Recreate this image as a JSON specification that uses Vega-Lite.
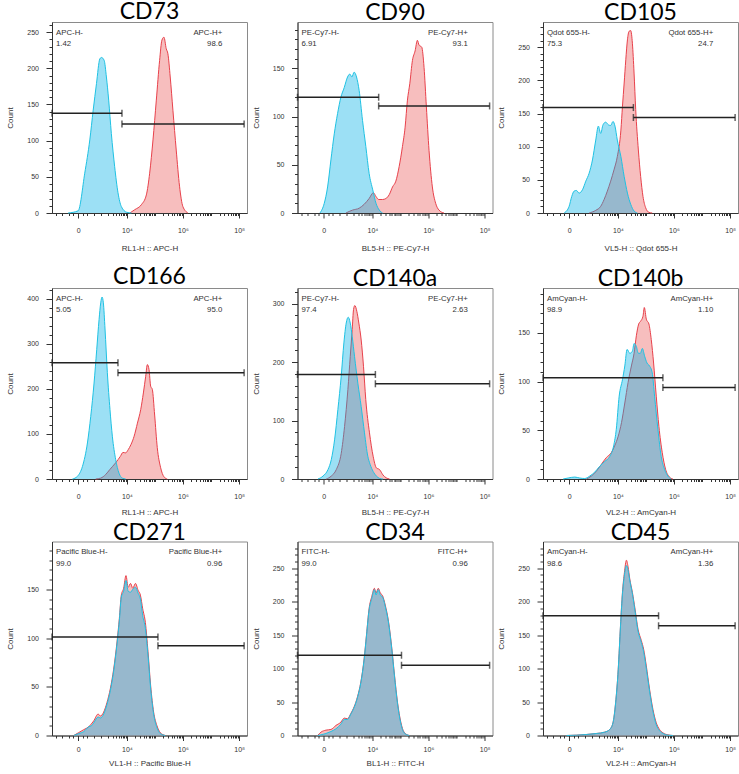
{
"$schema": "https://vega.github.io/schema/vega-lite/v6.json",
"padding": {"left": 6, "top": 0, "right": 0, "bottom": 0},
"datasets": {
"hist": [
{"p":"CD73","s":"c","x":-237,"y":0},{"p":"CD73","s":"c","x":0,"y":3},{"p":"CD73","s":"c","x":135,"y":55},{"p":"CD73","s":"c","x":300,"y":101},{"p":"CD73","s":"c","x":455,"y":142},{"p":"CD73","s":"c","x":655,"y":179},{"p":"CD73","s":"c","x":920,"y":213},{"p":"CD73","s":"c","x":1078,"y":215},{"p":"CD73","s":"c","x":1390,"y":211},{"p":"CD73","s":"c","x":1710,"y":188},{"p":"CD73","s":"c","x":2100,"y":156},{"p":"CD73","s":"c","x":2655,"y":110},{"p":"CD73","s":"c","x":3544,"y":64},{"p":"CD73","s":"c","x":4714,"y":28},{"p":"CD73","s":"c","x":6250,"y":9},{"p":"CD73","s":"c","x":9800,"y":1},{"p":"CD73","s":"c","x":14600,"y":0},
{"p":"CD73","s":"r","x":12800,"y":0},{"p":"CD73","s":"r","x":19200,"y":4.6},{"p":"CD73","s":"r","x":33100,"y":11.5},{"p":"CD73","s":"r","x":49800,"y":25},{"p":"CD73","s":"r","x":65400,"y":55},{"p":"CD73","s":"r","x":85900,"y":101},{"p":"CD73","s":"r","x":113000,"y":156},{"p":"CD73","s":"r","x":148000,"y":211},{"p":"CD73","s":"r","x":179000,"y":239},{"p":"CD73","s":"r","x":211000,"y":243},{"p":"CD73","s":"r","x":255000,"y":227},{"p":"CD73","s":"r","x":292000,"y":220},{"p":"CD73","s":"r","x":353000,"y":188},{"p":"CD73","s":"r","x":440000,"y":142},{"p":"CD73","s":"r","x":577000,"y":87},{"p":"CD73","s":"r","x":757000,"y":37},{"p":"CD73","s":"r","x":995000,"y":9},{"p":"CD73","s":"r","x":1500000,"y":0},
{"p":"CD90","s":"c","x":-65,"y":0},{"p":"CD90","s":"c","x":10,"y":10},{"p":"CD90","s":"c","x":72,"y":27},{"p":"CD90","s":"c","x":153,"y":55},{"p":"CD90","s":"c","x":260,"y":82},{"p":"CD90","s":"c","x":399,"y":103},{"p":"CD90","s":"c","x":583,"y":120},{"p":"CD90","s":"c","x":825,"y":130},{"p":"CD90","s":"c","x":1141,"y":141},{"p":"CD90","s":"c","x":1419,"y":144},{"p":"CD90","s":"c","x":1703,"y":141},{"p":"CD90","s":"c","x":2097,"y":146},{"p":"CD90","s":"c","x":2581,"y":141},{"p":"CD90","s":"c","x":3250,"y":127},{"p":"CD90","s":"c","x":4340,"y":96},{"p":"CD90","s":"c","x":5740,"y":69},{"p":"CD90","s":"c","x":7590,"y":41},{"p":"CD90","s":"c","x":10270,"y":24},{"p":"CD90","s":"c","x":13500,"y":10},{"p":"CD90","s":"c","x":17700,"y":3},{"p":"CD90","s":"c","x":23200,"y":0},
{"p":"CD90","s":"r","x":970,"y":0},{"p":"CD90","s":"r","x":1808,"y":3},{"p":"CD90","s":"r","x":3250,"y":5},{"p":"CD90","s":"r","x":4990,"y":9},{"p":"CD90","s":"r","x":7590,"y":15},{"p":"CD90","s":"r","x":10800,"y":21},{"p":"CD90","s":"r","x":13500,"y":17},{"p":"CD90","s":"r","x":16800,"y":14},{"p":"CD90","s":"r","x":23200,"y":14},{"p":"CD90","s":"r","x":30500,"y":15},{"p":"CD90","s":"r","x":40100,"y":19},{"p":"CD90","s":"r","x":52600,"y":27},{"p":"CD90","s":"r","x":69100,"y":33},{"p":"CD90","s":"r","x":90600,"y":48},{"p":"CD90","s":"r","x":119000,"y":69},{"p":"CD90","s":"r","x":148000,"y":89},{"p":"CD90","s":"r","x":179000,"y":117},{"p":"CD90","s":"r","x":217000,"y":134},{"p":"CD90","s":"r","x":269000,"y":158},{"p":"CD90","s":"r","x":335000,"y":168},{"p":"CD90","s":"r","x":405000,"y":179},{"p":"CD90","s":"r","x":464000,"y":174},{"p":"CD90","s":"r","x":577000,"y":172},{"p":"CD90","s":"r","x":698000,"y":151},{"p":"CD90","s":"r","x":845000,"y":110},{"p":"CD90","s":"r","x":1050000,"y":65},{"p":"CD90","s":"r","x":1380000,"y":27},{"p":"CD90","s":"r","x":1810000,"y":10},{"p":"CD90","s":"r","x":2380000,"y":3},{"p":"CD90","s":"r","x":3570000,"y":0},
{"p":"CD105","s":"c","x":-94,"y":0},{"p":"CD105","s":"c","x":0,"y":10},{"p":"CD105","s":"c","x":45,"y":25},{"p":"CD105","s":"c","x":94,"y":33},{"p":"CD105","s":"c","x":153,"y":34},{"p":"CD105","s":"c","x":237,"y":30},{"p":"CD105","s":"c","x":371,"y":35},{"p":"CD105","s":"c","x":546,"y":48},{"p":"CD105","s":"c","x":777,"y":60},{"p":"CD105","s":"c","x":1078,"y":80},{"p":"CD105","s":"c","x":1470,"y":110},{"p":"CD105","s":"c","x":1864,"y":131},{"p":"CD105","s":"c","x":2295,"y":120},{"p":"CD105","s":"c","x":2818,"y":133},{"p":"CD105","s":"c","x":3544,"y":137},{"p":"CD105","s":"c","x":4450,"y":133},{"p":"CD105","s":"c","x":5430,"y":132},{"p":"CD105","s":"c","x":6600,"y":138},{"p":"CD105","s":"c","x":7820,"y":131},{"p":"CD105","s":"c","x":9500,"y":110},{"p":"CD105","s":"c","x":12800,"y":85},{"p":"CD105","s":"c","x":16800,"y":55},{"p":"CD105","s":"c","x":22000,"y":30},{"p":"CD105","s":"c","x":28900,"y":13},{"p":"CD105","s":"c","x":38000,"y":3},{"p":"CD105","s":"c","x":49800,"y":0},
{"p":"CD105","s":"r","x":777,"y":0},{"p":"CD105","s":"r","x":1470,"y":4},{"p":"CD105","s":"r","x":2295,"y":10},{"p":"CD105","s":"r","x":3070,"y":20},{"p":"CD105","s":"r","x":4090,"y":33},{"p":"CD105","s":"r","x":5430,"y":48},{"p":"CD105","s":"r","x":7180,"y":65},{"p":"CD105","s":"r","x":9500,"y":85},{"p":"CD105","s":"r","x":12800,"y":125},{"p":"CD105","s":"r","x":14600,"y":161},{"p":"CD105","s":"r","x":16800,"y":196},{"p":"CD105","s":"r","x":19200,"y":231},{"p":"CD105","s":"r","x":22000,"y":261},{"p":"CD105","s":"r","x":25200,"y":274},{"p":"CD105","s":"r","x":28900,"y":275},{"p":"CD105","s":"r","x":33100,"y":256},{"p":"CD105","s":"r","x":38000,"y":211},{"p":"CD105","s":"r","x":43500,"y":156},{"p":"CD105","s":"r","x":54100,"y":95},{"p":"CD105","s":"r","x":65400,"y":55},{"p":"CD105","s":"r","x":79100,"y":25},{"p":"CD105","s":"r","x":98400,"y":8},{"p":"CD105","s":"r","x":129000,"y":1},{"p":"CD105","s":"r","x":169000,"y":0},
{"p":"CD166","s":"c","x":-110,"y":0},{"p":"CD166","s":"c","x":-10,"y":6},{"p":"CD166","s":"c","x":80,"y":28},{"p":"CD166","s":"c","x":214,"y":80},{"p":"CD166","s":"c","x":339,"y":139},{"p":"CD166","s":"c","x":503,"y":213},{"p":"CD166","s":"c","x":671,"y":287},{"p":"CD166","s":"c","x":853,"y":354},{"p":"CD166","s":"c","x":1004,"y":391},{"p":"CD166","s":"c","x":1141,"y":404},{"p":"CD166","s":"c","x":1292,"y":391},{"p":"CD166","s":"c","x":1507,"y":333},{"p":"CD166","s":"c","x":1864,"y":236},{"p":"CD166","s":"c","x":2357,"y":154},{"p":"CD166","s":"c","x":2900,"y":95},{"p":"CD166","s":"c","x":3870,"y":43},{"p":"CD166","s":"c","x":5130,"y":13},{"p":"CD166","s":"c","x":6790,"y":2},{"p":"CD166","s":"c","x":8970,"y":0},
{"p":"CD166","s":"r","x":604,"y":0},{"p":"CD166","s":"r","x":1004,"y":2},{"p":"CD166","s":"r","x":1603,"y":10},{"p":"CD166","s":"r","x":2320,"y":21},{"p":"CD166","s":"r","x":3870,"y":36},{"p":"CD166","s":"r","x":5720,"y":50},{"p":"CD166","s":"r","x":7200,"y":59},{"p":"CD166","s":"r","x":8970,"y":58},{"p":"CD166","s":"r","x":11100,"y":65},{"p":"CD166","s":"r","x":13900,"y":76},{"p":"CD166","s":"r","x":18200,"y":95},{"p":"CD166","s":"r","x":23900,"y":124},{"p":"CD166","s":"r","x":31300,"y":154},{"p":"CD166","s":"r","x":39000,"y":191},{"p":"CD166","s":"r","x":47200,"y":228},{"p":"CD166","s":"r","x":54100,"y":254},{"p":"CD166","s":"r","x":62000,"y":243},{"p":"CD166","s":"r","x":71000,"y":206},{"p":"CD166","s":"r","x":81300,"y":199},{"p":"CD166","s":"r","x":98400,"y":142},{"p":"CD166","s":"r","x":122000,"y":70},{"p":"CD166","s":"r","x":161000,"y":25},{"p":"CD166","s":"r","x":211000,"y":5},{"p":"CD166","s":"r","x":277000,"y":0},
{"p":"CD140a","s":"c","x":-110,"y":0},{"p":"CD140a","s":"c","x":-10,"y":5},{"p":"CD140a","s":"c","x":80,"y":16},{"p":"CD140a","s":"c","x":163,"y":33},{"p":"CD140a","s":"c","x":272,"y":67},{"p":"CD140a","s":"c","x":415,"y":119},{"p":"CD140a","s":"c","x":604,"y":176},{"p":"CD140a","s":"c","x":797,"y":233},{"p":"CD140a","s":"c","x":1004,"y":267},{"p":"CD140a","s":"c","x":1216,"y":277},{"p":"CD140a","s":"c","x":1470,"y":267},{"p":"CD140a","s":"c","x":1757,"y":244},{"p":"CD140a","s":"c","x":2164,"y":210},{"p":"CD140a","s":"c","x":2900,"y":164},{"p":"CD140a","s":"c","x":3870,"y":124},{"p":"CD140a","s":"c","x":5130,"y":79},{"p":"CD140a","s":"c","x":6790,"y":39},{"p":"CD140a","s":"c","x":8260,"y":25},{"p":"CD140a","s":"c","x":10600,"y":13},{"p":"CD140a","s":"c","x":13900,"y":5},{"p":"CD140a","s":"c","x":18200,"y":1},{"p":"CD140a","s":"c","x":23900,"y":0},
{"p":"CD140a","s":"r","x":45,"y":0},{"p":"CD140a","s":"r","x":163,"y":5},{"p":"CD140a","s":"r","x":339,"y":16},{"p":"CD140a","s":"r","x":604,"y":44},{"p":"CD140a","s":"r","x":853,"y":90},{"p":"CD140a","s":"r","x":1177,"y":153},{"p":"CD140a","s":"r","x":1470,"y":210},{"p":"CD140a","s":"r","x":1757,"y":256},{"p":"CD140a","s":"r","x":1980,"y":290},{"p":"CD140a","s":"r","x":2226,"y":297},{"p":"CD140a","s":"r","x":2655,"y":287},{"p":"CD140a","s":"r","x":3160,"y":267},{"p":"CD140a","s":"r","x":3870,"y":238},{"p":"CD140a","s":"r","x":4714,"y":193},{"p":"CD140a","s":"r","x":5720,"y":136},{"p":"CD140a","s":"r","x":7820,"y":79},{"p":"CD140a","s":"r","x":10600,"y":39},{"p":"CD140a","s":"r","x":13900,"y":19},{"p":"CD140a","s":"r","x":18200,"y":16},{"p":"CD140a","s":"r","x":23900,"y":7},{"p":"CD140a","s":"r","x":31300,"y":2},{"p":"CD140a","s":"r","x":41200,"y":0},
{"p":"CD140b","s":"c","x":-118,"y":0},{"p":"CD140b","s":"c","x":-16,"y":1},{"p":"CD140b","s":"c","x":110,"y":2},{"p":"CD140b","s":"c","x":260,"y":1},{"p":"CD140b","s":"c","x":485,"y":0.5},{"p":"CD140b","s":"c","x":825,"y":3},{"p":"CD140b","s":"c","x":1333,"y":7},{"p":"CD140b","s":"c","x":2097,"y":13},{"p":"CD140b","s":"c","x":3250,"y":18},{"p":"CD140b","s":"c","x":4990,"y":23},{"p":"CD140b","s":"c","x":6990,"y":34},{"p":"CD140b","s":"c","x":8720,"y":51},{"p":"CD140b","s":"c","x":11100,"y":85},{"p":"CD140b","s":"c","x":14600,"y":102},{"p":"CD140b","s":"c","x":17700,"y":116},{"p":"CD140b","s":"c","x":21400,"y":133},{"p":"CD140b","s":"c","x":26700,"y":129},{"p":"CD140b","s":"c","x":33100,"y":131},{"p":"CD140b","s":"c","x":38000,"y":139},{"p":"CD140b","s":"c","x":45900,"y":136},{"p":"CD140b","s":"c","x":54100,"y":129},{"p":"CD140b","s":"c","x":63700,"y":129},{"p":"CD140b","s":"c","x":75000,"y":134},{"p":"CD140b","s":"c","x":90600,"y":126},{"p":"CD140b","s":"c","x":110000,"y":119},{"p":"CD140b","s":"c","x":136000,"y":116},{"p":"CD140b","s":"c","x":169000,"y":109},{"p":"CD140b","s":"c","x":205000,"y":85},{"p":"CD140b","s":"c","x":269000,"y":51},{"p":"CD140b","s":"c","x":353000,"y":23},{"p":"CD140b","s":"c","x":464000,"y":10},{"p":"CD140b","s":"c","x":609000,"y":3},{"p":"CD140b","s":"c","x":800000,"y":0},
{"p":"CD140b","s":"r","x":583,"y":0},{"p":"CD140b","s":"r","x":970,"y":3},{"p":"CD140b","s":"r","x":1554,"y":8},{"p":"CD140b","s":"r","x":2430,"y":15},{"p":"CD140b","s":"r","x":3760,"y":22},{"p":"CD140b","s":"r","x":5740,"y":27},{"p":"CD140b","s":"r","x":7590,"y":34},{"p":"CD140b","s":"r","x":10270,"y":44},{"p":"CD140b","s":"r","x":13500,"y":58},{"p":"CD140b","s":"r","x":17700,"y":78},{"p":"CD140b","s":"r","x":23200,"y":99},{"p":"CD140b","s":"r","x":30500,"y":116},{"p":"CD140b","s":"r","x":38000,"y":129},{"p":"CD140b","s":"r","x":45900,"y":147},{"p":"CD140b","s":"r","x":55600,"y":159},{"p":"CD140b","s":"r","x":65400,"y":162},{"p":"CD140b","s":"r","x":79100,"y":167},{"p":"CD140b","s":"r","x":88200,"y":176},{"p":"CD140b","s":"r","x":104000,"y":164},{"p":"CD140b","s":"r","x":129000,"y":159},{"p":"CD140b","s":"r","x":156000,"y":143},{"p":"CD140b","s":"r","x":189000,"y":119},{"p":"CD140b","s":"r","x":235000,"y":85},{"p":"CD140b","s":"r","x":292000,"y":54},{"p":"CD140b","s":"r","x":384000,"y":27},{"p":"CD140b","s":"r","x":504000,"y":10},{"p":"CD140b","s":"r","x":698000,"y":2},{"p":"CD140b","s":"r","x":916000,"y":0},
{"p":"CD271","s":"r","x":-80,"y":0},{"p":"CD271","s":"r","x":10,"y":3},{"p":"CD271","s":"r","x":110,"y":6},{"p":"CD271","s":"r","x":260,"y":9},{"p":"CD271","s":"r","x":485,"y":15},{"p":"CD271","s":"r","x":777,"y":22},{"p":"CD271","s":"r","x":970,"y":20},{"p":"CD271","s":"r","x":1333,"y":24},{"p":"CD271","s":"r","x":1808,"y":34},{"p":"CD271","s":"r","x":2430,"y":48},{"p":"CD271","s":"r","x":3250,"y":68},{"p":"CD271","s":"r","x":4340,"y":96},{"p":"CD271","s":"r","x":5290,"y":120},{"p":"CD271","s":"r","x":6250,"y":144},{"p":"CD271","s":"r","x":7590,"y":151},{"p":"CD271","s":"r","x":9240,"y":164},{"p":"CD271","s":"r","x":11100,"y":152},{"p":"CD271","s":"r","x":13500,"y":156},{"p":"CD271","s":"r","x":16300,"y":151},{"p":"CD271","s":"r","x":20300,"y":156},{"p":"CD271","s":"r","x":25200,"y":149},{"p":"CD271","s":"r","x":30500,"y":144},{"p":"CD271","s":"r","x":36900,"y":130},{"p":"CD271","s":"r","x":45900,"y":116},{"p":"CD271","s":"r","x":57100,"y":86},{"p":"CD271","s":"r","x":71000,"y":51},{"p":"CD271","s":"r","x":90600,"y":24},{"p":"CD271","s":"r","x":119000,"y":10},{"p":"CD271","s":"r","x":156000,"y":3},{"p":"CD271","s":"r","x":235000,"y":0},
{"p":"CD271","s":"c","x":-80,"y":0},{"p":"CD271","s":"c","x":10,"y":2},{"p":"CD271","s":"c","x":110,"y":4},{"p":"CD271","s":"c","x":260,"y":9},{"p":"CD271","s":"c","x":370,"y":10},{"p":"CD271","s":"c","x":485,"y":13},{"p":"CD271","s":"c","x":777,"y":19},{"p":"CD271","s":"c","x":970,"y":18},{"p":"CD271","s":"c","x":1333,"y":22},{"p":"CD271","s":"c","x":1808,"y":32},{"p":"CD271","s":"c","x":2430,"y":46},{"p":"CD271","s":"c","x":3250,"y":66},{"p":"CD271","s":"c","x":4340,"y":94},{"p":"CD271","s":"c","x":5290,"y":118},{"p":"CD271","s":"c","x":6250,"y":142},{"p":"CD271","s":"c","x":7590,"y":148},{"p":"CD271","s":"c","x":9240,"y":159},{"p":"CD271","s":"c","x":11100,"y":148},{"p":"CD271","s":"c","x":13500,"y":147},{"p":"CD271","s":"c","x":16300,"y":150},{"p":"CD271","s":"c","x":20300,"y":152},{"p":"CD271","s":"c","x":25200,"y":146},{"p":"CD271","s":"c","x":30500,"y":140},{"p":"CD271","s":"c","x":36900,"y":123},{"p":"CD271","s":"c","x":45900,"y":110},{"p":"CD271","s":"c","x":57100,"y":82},{"p":"CD271","s":"c","x":71000,"y":48},{"p":"CD271","s":"c","x":90600,"y":22},{"p":"CD271","s":"c","x":119000,"y":8},{"p":"CD271","s":"c","x":156000,"y":2},{"p":"CD271","s":"c","x":235000,"y":0},
{"p":"CD34","s":"r","x":-118,"y":0},{"p":"CD34","s":"r","x":-45,"y":5},{"p":"CD34","s":"r","x":39,"y":8},{"p":"CD34","s":"r","x":153,"y":9},{"p":"CD34","s":"r","x":325,"y":15},{"p":"CD34","s":"r","x":583,"y":20},{"p":"CD34","s":"r","x":825,"y":26},{"p":"CD34","s":"r","x":1141,"y":25},{"p":"CD34","s":"r","x":1554,"y":33},{"p":"CD34","s":"r","x":2097,"y":43},{"p":"CD34","s":"r","x":2818,"y":58},{"p":"CD34","s":"r","x":3760,"y":80},{"p":"CD34","s":"r","x":4990,"y":115},{"p":"CD34","s":"r","x":6070,"y":150},{"p":"CD34","s":"r","x":7590,"y":190},{"p":"CD34","s":"r","x":9500,"y":208},{"p":"CD34","s":"r","x":11800,"y":220},{"p":"CD34","s":"r","x":13500,"y":213},{"p":"CD34","s":"r","x":16300,"y":220},{"p":"CD34","s":"r","x":19200,"y":213},{"p":"CD34","s":"r","x":23200,"y":209},{"p":"CD34","s":"r","x":28900,"y":195},{"p":"CD34","s":"r","x":38000,"y":170},{"p":"CD34","s":"r","x":49800,"y":130},{"p":"CD34","s":"r","x":62000,"y":90},{"p":"CD34","s":"r","x":79100,"y":50},{"p":"CD34","s":"r","x":104000,"y":20},{"p":"CD34","s":"r","x":136000,"y":5},{"p":"CD34","s":"r","x":205000,"y":0},
{"p":"CD34","s":"c","x":-118,"y":0},{"p":"CD34","s":"c","x":-45,"y":1},{"p":"CD34","s":"c","x":39,"y":3},{"p":"CD34","s":"c","x":153,"y":6},{"p":"CD34","s":"c","x":325,"y":10},{"p":"CD34","s":"c","x":583,"y":17},{"p":"CD34","s":"c","x":825,"y":24},{"p":"CD34","s":"c","x":1141,"y":24},{"p":"CD34","s":"c","x":1554,"y":32},{"p":"CD34","s":"c","x":2097,"y":42},{"p":"CD34","s":"c","x":2818,"y":57},{"p":"CD34","s":"c","x":3760,"y":79},{"p":"CD34","s":"c","x":4990,"y":114},{"p":"CD34","s":"c","x":6070,"y":149},{"p":"CD34","s":"c","x":7590,"y":188},{"p":"CD34","s":"c","x":9500,"y":205},{"p":"CD34","s":"c","x":11800,"y":218},{"p":"CD34","s":"c","x":13500,"y":210},{"p":"CD34","s":"c","x":16300,"y":218},{"p":"CD34","s":"c","x":19200,"y":210},{"p":"CD34","s":"c","x":23200,"y":207},{"p":"CD34","s":"c","x":28900,"y":193},{"p":"CD34","s":"c","x":38000,"y":168},{"p":"CD34","s":"c","x":49800,"y":128},{"p":"CD34","s":"c","x":62000,"y":88},{"p":"CD34","s":"c","x":79100,"y":48},{"p":"CD34","s":"c","x":104000,"y":18},{"p":"CD34","s":"c","x":136000,"y":4},{"p":"CD34","s":"c","x":205000,"y":0},
{"p":"CD45","s":"r","x":-45,"y":0},{"p":"CD45","s":"r","x":153,"y":0.5},{"p":"CD45","s":"r","x":583,"y":1.5},{"p":"CD45","s":"r","x":1554,"y":3},{"p":"CD45","s":"r","x":3250,"y":5},{"p":"CD45","s":"r","x":4990,"y":9},{"p":"CD45","s":"r","x":6600,"y":19},{"p":"CD45","s":"r","x":8260,"y":49},{"p":"CD45","s":"r","x":10270,"y":99},{"p":"CD45","s":"r","x":12400,"y":164},{"p":"CD45","s":"r","x":14600,"y":214},{"p":"CD45","s":"r","x":17200,"y":244},{"p":"CD45","s":"r","x":20300,"y":262},{"p":"CD45","s":"r","x":23200,"y":252},{"p":"CD45","s":"r","x":26700,"y":234},{"p":"CD45","s":"r","x":33100,"y":214},{"p":"CD45","s":"r","x":41200,"y":189},{"p":"CD45","s":"r","x":52600,"y":159},{"p":"CD45","s":"r","x":69100,"y":142},{"p":"CD45","s":"r","x":83600,"y":129},{"p":"CD45","s":"r","x":104000,"y":104},{"p":"CD45","s":"r","x":136000,"y":69},{"p":"CD45","s":"r","x":179000,"y":39},{"p":"CD45","s":"r","x":235000,"y":19},{"p":"CD45","s":"r","x":308000,"y":9},{"p":"CD45","s":"r","x":405000,"y":4},{"p":"CD45","s":"r","x":609000,"y":1},{"p":"CD45","s":"r","x":916000,"y":0},
{"p":"CD45","s":"c","x":-45,"y":0},{"p":"CD45","s":"c","x":153,"y":0.5},{"p":"CD45","s":"c","x":583,"y":1.5},{"p":"CD45","s":"c","x":1554,"y":3},{"p":"CD45","s":"c","x":3250,"y":5},{"p":"CD45","s":"c","x":4990,"y":9},{"p":"CD45","s":"c","x":6600,"y":19},{"p":"CD45","s":"c","x":8260,"y":49},{"p":"CD45","s":"c","x":10270,"y":99},{"p":"CD45","s":"c","x":12400,"y":164},{"p":"CD45","s":"c","x":14600,"y":212},{"p":"CD45","s":"c","x":17200,"y":240},{"p":"CD45","s":"c","x":20300,"y":254},{"p":"CD45","s":"c","x":23200,"y":247},{"p":"CD45","s":"c","x":26700,"y":232},{"p":"CD45","s":"c","x":33100,"y":212},{"p":"CD45","s":"c","x":41200,"y":186},{"p":"CD45","s":"c","x":52600,"y":156},{"p":"CD45","s":"c","x":69100,"y":139},{"p":"CD45","s":"c","x":83600,"y":125},{"p":"CD45","s":"c","x":104000,"y":100},{"p":"CD45","s":"c","x":136000,"y":66},{"p":"CD45","s":"c","x":179000,"y":36},{"p":"CD45","s":"c","x":235000,"y":16},{"p":"CD45","s":"c","x":308000,"y":7},{"p":"CD45","s":"c","x":405000,"y":3},{"p":"CD45","s":"c","x":609000,"y":0.5},{"p":"CD45","s":"c","x":916000,"y":0}
],
"gates": [
{"p":"CD73","side":"neg","x":-1400,"x2":6600,"y":138,"gate":"APC-H-","pct":"1.42"},
{"p":"CD73","side":"pos","x":6600,"x2":1.5e8,"y":123,"gate":"APC-H+","pct":"98.6"},
{"p":"CD90","side":"neg","x":-1400,"x2":16800,"y":120,"gate":"PE-Cy7-H-","pct":"6.91"},
{"p":"CD90","side":"pos","x":16800,"x2":1.5e8,"y":111,"gate":"PE-Cy7-H+","pct":"93.1"},
{"p":"CD105","side":"neg","x":-1400,"x2":36000,"y":159,"gate":"Qdot 655-H-","pct":"75.3"},
{"p":"CD105","side":"pos","x":36000,"x2":1.5e8,"y":144,"gate":"Qdot 655-H+","pct":"24.7"},
{"p":"CD166","side":"neg","x":-1400,"x2":4700,"y":258,"gate":"APC-H-","pct":"5.05"},
{"p":"CD166","side":"pos","x":4700,"x2":1.5e8,"y":236,"gate":"APC-H+","pct":"95.0"},
{"p":"CD140a","side":"neg","x":-1400,"x2":12800,"y":179,"gate":"PE-Cy7-H-","pct":"97.4"},
{"p":"CD140a","side":"pos","x":12800,"x2":1.5e8,"y":163,"gate":"PE-Cy7-H+","pct":"2.63"},
{"p":"CD140b","side":"neg","x":-1400,"x2":405000,"y":104,"gate":"AmCyan-H-","pct":"98.9"},
{"p":"CD140b","side":"pos","x":405000,"x2":1.5e8,"y":94,"gate":"AmCyan-H+","pct":"1.10"},
{"p":"CD271","side":"neg","x":-1400,"x2":129000,"y":101,"gate":"Pacific Blue-H-","pct":"99.0"},
{"p":"CD271","side":"pos","x":129000,"x2":1.5e8,"y":92,"gate":"Pacific Blue-H+","pct":"0.96"},
{"p":"CD34","side":"neg","x":-1400,"x2":110000,"y":120,"gate":"FITC-H-","pct":"99.0"},
{"p":"CD34","side":"pos","x":110000,"x2":1.5e8,"y":105,"gate":"FITC-H+","pct":"0.96"},
{"p":"CD45","side":"neg","x":-1400,"x2":284000,"y":179,"gate":"AmCyan-H-","pct":"98.6"},
{"p":"CD45","side":"pos","x":284000,"x2":1.5e8,"y":164,"gate":"AmCyan-H+","pct":"1.36"}
]
},
"spacing": 12,
"vconcat": [
{"hconcat": [
{"title": "CD73", "width": 195, "height": 191,
 "encoding": {
  "x": {"field": "x", "type": "quantitative", "scale": {"type": "symlog", "constant": 187, "domain": [-1400, 1.9e8], "nice": false},
   "axis": {"title": "RL1-H :: APC-H", "values": [-1000,-500,-200,-100,0,100,200,500,1000,2000,3000,4000,5000,6000,7000,8000,9000,1e4,2e4,3e4,4e4,5e4,6e4,7e4,8e4,9e4,1e5,2e5,3e5,4e5,5e5,6e5,7e5,8e5,9e5,1e6,2e6,3e6,4e6,5e6,6e6,7e6,8e6,9e6,1e7,2e7,3e7,4e7,5e7,6e7,7e7,8e7,9e7,1e8], "labelExpr": "datum.value===0?'0':datum.value===1e4?'10⁴':datum.value===1e6?'10⁶':datum.value===1e8?'10⁸':''", "tickSize": {"condition": {"test": "datum.value===0||datum.value===1e4||datum.value===1e6||datum.value===1e8", "value": 5}, "value": 2.5}}},
  "y": {"field": "y", "type": "quantitative", "scale": {"domain": [0, 264], "nice": false},
   "axis": {"title": "Count", "values": [0,10,20,30,40,50,60,70,80,90,100,110,120,130,140,150,160,170,180,190,200,210,220,230,240,250,260], "labelExpr": "datum.value%50===0?datum.label:''", "tickSize": {"condition": {"test": "datum.value%50===0", "value": 6}, "value": 3}}}
 },
 "layer": [
  {"data": {"name": "hist"}, "transform": [{"filter": "datum.p==='CD73'&&datum.s==='r'"}], "mark": {"type": "area", "color": "#f4a3a3", "interpolate": "monotone", "line": {"color": "#e8414b", "strokeWidth": 1}}},
  {"data": {"name": "hist"}, "transform": [{"filter": "datum.p==='CD73'&&datum.s==='c'"}], "mark": {"type": "area", "color": "#00afe5", "fillOpacity": 0.39, "interpolate": "monotone", "line": {"color": "#1fc2e3", "strokeWidth": 1}}},
  {"data": {"name": "gates"}, "transform": [{"filter": "datum.p==='CD73'"}], "mark": {"type": "rule", "color": "#222", "strokeWidth": 1.5}, "encoding": {"x2": {"field": "x2"}}},
  {"data": {"name": "gates"}, "transform": [{"filter": "datum.p==='CD73'"}], "mark": {"type": "tick", "orient": "vertical", "size": 7, "thickness": 1.5, "color": "#222"}},
  {"data": {"name": "gates"}, "transform": [{"filter": "datum.p==='CD73'"}], "mark": {"type": "tick", "orient": "vertical", "size": 7, "thickness": 1.5, "color": "#222"}, "encoding": {"x": {"field": "x2", "type": "quantitative"}}},
  {"data": {"name": "gates"}, "transform": [{"filter": "datum.p==='CD73'&&datum.side==='neg'"}], "mark": {"type": "text", "align": "left", "baseline": "middle", "dx": 4, "dy": 10.7}, "encoding": {"x": {"datum": -1400, "type": "quantitative"}, "y": {"datum": 264, "type": "quantitative"}, "text": {"field": "gate"}}},
  {"data": {"name": "gates"}, "transform": [{"filter": "datum.p==='CD73'&&datum.side==='neg'"}], "mark": {"type": "text", "align": "left", "baseline": "middle", "dx": 4, "dy": 22.3}, "encoding": {"x": {"datum": -1400, "type": "quantitative"}, "y": {"datum": 264, "type": "quantitative"}, "text": {"field": "pct"}}},
  {"data": {"name": "gates"}, "transform": [{"filter": "datum.p==='CD73'&&datum.side==='pos'"}], "mark": {"type": "text", "align": "right", "baseline": "middle", "dy": 10.7}, "encoding": {"x": {"datum": 2.5e7, "type": "quantitative"}, "y": {"datum": 264, "type": "quantitative"}, "text": {"field": "gate"}}},
  {"data": {"name": "gates"}, "transform": [{"filter": "datum.p==='CD73'&&datum.side==='pos'"}], "mark": {"type": "text", "align": "right", "baseline": "middle", "dy": 22.3}, "encoding": {"x": {"datum": 2.5e7, "type": "quantitative"}, "y": {"datum": 264, "type": "quantitative"}, "text": {"field": "pct"}}}
 ]},
{"title": "CD90", "width": 195, "height": 191,
 "encoding": {
  "x": {"field": "x", "type": "quantitative", "scale": {"type": "symlog", "constant": 187, "domain": [-1400, 1.9e8], "nice": false},
   "axis": {"title": "BL5-H :: PE-Cy7-H", "values": [-1000,-500,-200,-100,0,100,200,500,1000,2000,3000,4000,5000,6000,7000,8000,9000,1e4,2e4,3e4,4e4,5e4,6e4,7e4,8e4,9e4,1e5,2e5,3e5,4e5,5e5,6e5,7e5,8e5,9e5,1e6,2e6,3e6,4e6,5e6,6e6,7e6,8e6,9e6,1e7,2e7,3e7,4e7,5e7,6e7,7e7,8e7,9e7,1e8], "labelExpr": "datum.value===0?'0':datum.value===1e4?'10⁴':datum.value===1e6?'10⁶':datum.value===1e8?'10⁸':''", "tickSize": {"condition": {"test": "datum.value===0||datum.value===1e4||datum.value===1e6||datum.value===1e8", "value": 5}, "value": 2.5}}},
  "y": {"field": "y", "type": "quantitative", "scale": {"domain": [0, 198], "nice": false},
   "axis": {"title": "Count", "values": [0,10,20,30,40,50,60,70,80,90,100,110,120,130,140,150,160,170,180,190], "labelExpr": "datum.value%50===0?datum.label:''", "tickSize": {"condition": {"test": "datum.value%50===0", "value": 6}, "value": 3}}}
 },
 "layer": [
  {"data": {"name": "hist"}, "transform": [{"filter": "datum.p==='CD90'&&datum.s==='r'"}], "mark": {"type": "area", "color": "#f4a3a3", "interpolate": "monotone", "line": {"color": "#e8414b", "strokeWidth": 1}}},
  {"data": {"name": "hist"}, "transform": [{"filter": "datum.p==='CD90'&&datum.s==='c'"}], "mark": {"type": "area", "color": "#00afe5", "fillOpacity": 0.39, "interpolate": "monotone", "line": {"color": "#1fc2e3", "strokeWidth": 1}}},
  {"data": {"name": "gates"}, "transform": [{"filter": "datum.p==='CD90'"}], "mark": {"type": "rule", "color": "#222", "strokeWidth": 1.5}, "encoding": {"x2": {"field": "x2"}}},
  {"data": {"name": "gates"}, "transform": [{"filter": "datum.p==='CD90'"}], "mark": {"type": "tick", "orient": "vertical", "size": 7, "thickness": 1.5, "color": "#222"}},
  {"data": {"name": "gates"}, "transform": [{"filter": "datum.p==='CD90'"}], "mark": {"type": "tick", "orient": "vertical", "size": 7, "thickness": 1.5, "color": "#222"}, "encoding": {"x": {"field": "x2", "type": "quantitative"}}},
  {"data": {"name": "gates"}, "transform": [{"filter": "datum.p==='CD90'&&datum.side==='neg'"}], "mark": {"type": "text", "align": "left", "baseline": "middle", "dx": 4, "dy": 10.7}, "encoding": {"x": {"datum": -1400, "type": "quantitative"}, "y": {"datum": 198, "type": "quantitative"}, "text": {"field": "gate"}}},
  {"data": {"name": "gates"}, "transform": [{"filter": "datum.p==='CD90'&&datum.side==='neg'"}], "mark": {"type": "text", "align": "left", "baseline": "middle", "dx": 4, "dy": 22.3}, "encoding": {"x": {"datum": -1400, "type": "quantitative"}, "y": {"datum": 198, "type": "quantitative"}, "text": {"field": "pct"}}},
  {"data": {"name": "gates"}, "transform": [{"filter": "datum.p==='CD90'&&datum.side==='pos'"}], "mark": {"type": "text", "align": "right", "baseline": "middle", "dy": 10.7}, "encoding": {"x": {"datum": 2.5e7, "type": "quantitative"}, "y": {"datum": 198, "type": "quantitative"}, "text": {"field": "gate"}}},
  {"data": {"name": "gates"}, "transform": [{"filter": "datum.p==='CD90'&&datum.side==='pos'"}], "mark": {"type": "text", "align": "right", "baseline": "middle", "dy": 22.3}, "encoding": {"x": {"datum": 2.5e7, "type": "quantitative"}, "y": {"datum": 198, "type": "quantitative"}, "text": {"field": "pct"}}}
 ]},
{"title": "CD105", "width": 195, "height": 191,
 "encoding": {
  "x": {"field": "x", "type": "quantitative", "scale": {"type": "symlog", "constant": 187, "domain": [-1400, 1.9e8], "nice": false},
   "axis": {"title": "VL5-H :: Qdot 655-H", "values": [-1000,-500,-200,-100,0,100,200,500,1000,2000,3000,4000,5000,6000,7000,8000,9000,1e4,2e4,3e4,4e4,5e4,6e4,7e4,8e4,9e4,1e5,2e5,3e5,4e5,5e5,6e5,7e5,8e5,9e5,1e6,2e6,3e6,4e6,5e6,6e6,7e6,8e6,9e6,1e7,2e7,3e7,4e7,5e7,6e7,7e7,8e7,9e7,1e8], "labelExpr": "datum.value===0?'0':datum.value===1e4?'10⁴':datum.value===1e6?'10⁶':datum.value===1e8?'10⁸':''", "tickSize": {"condition": {"test": "datum.value===0||datum.value===1e4||datum.value===1e6||datum.value===1e8", "value": 5}, "value": 2.5}}},
  "y": {"field": "y", "type": "quantitative", "scale": {"domain": [0, 288], "nice": false},
   "axis": {"title": "Count", "values": [0,10,20,30,40,50,60,70,80,90,100,110,120,130,140,150,160,170,180,190,200,210,220,230,240,250,260,270,280], "labelExpr": "datum.value%50===0?datum.label:''", "tickSize": {"condition": {"test": "datum.value%50===0", "value": 6}, "value": 3}}}
 },
 "layer": [
  {"data": {"name": "hist"}, "transform": [{"filter": "datum.p==='CD105'&&datum.s==='r'"}], "mark": {"type": "area", "color": "#f4a3a3", "interpolate": "monotone", "line": {"color": "#e8414b", "strokeWidth": 1}}},
  {"data": {"name": "hist"}, "transform": [{"filter": "datum.p==='CD105'&&datum.s==='c'"}], "mark": {"type": "area", "color": "#00afe5", "fillOpacity": 0.39, "interpolate": "monotone", "line": {"color": "#1fc2e3", "strokeWidth": 1}}},
  {"data": {"name": "gates"}, "transform": [{"filter": "datum.p==='CD105'"}], "mark": {"type": "rule", "color": "#222", "strokeWidth": 1.5}, "encoding": {"x2": {"field": "x2"}}},
  {"data": {"name": "gates"}, "transform": [{"filter": "datum.p==='CD105'"}], "mark": {"type": "tick", "orient": "vertical", "size": 7, "thickness": 1.5, "color": "#222"}},
  {"data": {"name": "gates"}, "transform": [{"filter": "datum.p==='CD105'"}], "mark": {"type": "tick", "orient": "vertical", "size": 7, "thickness": 1.5, "color": "#222"}, "encoding": {"x": {"field": "x2", "type": "quantitative"}}},
  {"data": {"name": "gates"}, "transform": [{"filter": "datum.p==='CD105'&&datum.side==='neg'"}], "mark": {"type": "text", "align": "left", "baseline": "middle", "dx": 4, "dy": 10.7}, "encoding": {"x": {"datum": -1400, "type": "quantitative"}, "y": {"datum": 288, "type": "quantitative"}, "text": {"field": "gate"}}},
  {"data": {"name": "gates"}, "transform": [{"filter": "datum.p==='CD105'&&datum.side==='neg'"}], "mark": {"type": "text", "align": "left", "baseline": "middle", "dx": 4, "dy": 22.3}, "encoding": {"x": {"datum": -1400, "type": "quantitative"}, "y": {"datum": 288, "type": "quantitative"}, "text": {"field": "pct"}}},
  {"data": {"name": "gates"}, "transform": [{"filter": "datum.p==='CD105'&&datum.side==='pos'"}], "mark": {"type": "text", "align": "right", "baseline": "middle", "dy": 10.7}, "encoding": {"x": {"datum": 2.5e7, "type": "quantitative"}, "y": {"datum": 288, "type": "quantitative"}, "text": {"field": "gate"}}},
  {"data": {"name": "gates"}, "transform": [{"filter": "datum.p==='CD105'&&datum.side==='pos'"}], "mark": {"type": "text", "align": "right", "baseline": "middle", "dy": 22.3}, "encoding": {"x": {"datum": 2.5e7, "type": "quantitative"}, "y": {"datum": 288, "type": "quantitative"}, "text": {"field": "pct"}}}
 ]}
], "spacing": 3.5},
{"spacing": 3.5, "vconcat": [
{"hconcat": [
{"title": "CD166", "width": 195, "height": 191,
 "encoding": {
  "x": {"field": "x", "type": "quantitative", "scale": {"type": "symlog", "constant": 187, "domain": [-1400, 1.9e8], "nice": false},
   "axis": {"title": "RL1-H :: APC-H", "titlePadding": 9, "values": [-1000,-500,-200,-100,0,100,200,500,1000,2000,3000,4000,5000,6000,7000,8000,9000,1e4,2e4,3e4,4e4,5e4,6e4,7e4,8e4,9e4,1e5,2e5,3e5,4e5,5e5,6e5,7e5,8e5,9e5,1e6,2e6,3e6,4e6,5e6,6e6,7e6,8e6,9e6,1e7,2e7,3e7,4e7,5e7,6e7,7e7,8e7,9e7,1e8], "labelExpr": "datum.value===0?'0':datum.value===1e4?'10⁴':datum.value===1e6?'10⁶':datum.value===1e8?'10⁸':''", "tickSize": {"condition": {"test": "datum.value===0||datum.value===1e4||datum.value===1e6||datum.value===1e8", "value": 5}, "value": 2.5}}},
  "y": {"field": "y", "type": "quantitative", "scale": {"domain": [0, 424], "nice": false},
   "axis": {"title": "Count", "values": [0,20,40,60,80,100,120,140,160,180,200,220,240,260,280,300,320,340,360,380,400,420], "labelExpr": "datum.value%100===0?datum.label:''", "tickSize": {"condition": {"test": "datum.value%100===0", "value": 6}, "value": 3}}}
 },
 "layer": [
  {"data": {"name": "hist"}, "transform": [{"filter": "datum.p==='CD166'&&datum.s==='r'"}], "mark": {"type": "area", "color": "#f4a3a3", "interpolate": "monotone", "line": {"color": "#e8414b", "strokeWidth": 1}}},
  {"data": {"name": "hist"}, "transform": [{"filter": "datum.p==='CD166'&&datum.s==='c'"}], "mark": {"type": "area", "color": "#00afe5", "fillOpacity": 0.39, "interpolate": "monotone", "line": {"color": "#1fc2e3", "strokeWidth": 1}}},
  {"data": {"name": "gates"}, "transform": [{"filter": "datum.p==='CD166'"}], "mark": {"type": "rule", "color": "#222", "strokeWidth": 1.5}, "encoding": {"x2": {"field": "x2"}}},
  {"data": {"name": "gates"}, "transform": [{"filter": "datum.p==='CD166'"}], "mark": {"type": "tick", "orient": "vertical", "size": 7, "thickness": 1.5, "color": "#222"}},
  {"data": {"name": "gates"}, "transform": [{"filter": "datum.p==='CD166'"}], "mark": {"type": "tick", "orient": "vertical", "size": 7, "thickness": 1.5, "color": "#222"}, "encoding": {"x": {"field": "x2", "type": "quantitative"}}},
  {"data": {"name": "gates"}, "transform": [{"filter": "datum.p==='CD166'&&datum.side==='neg'"}], "mark": {"type": "text", "align": "left", "baseline": "middle", "dx": 4, "dy": 10.7}, "encoding": {"x": {"datum": -1400, "type": "quantitative"}, "y": {"datum": 424, "type": "quantitative"}, "text": {"field": "gate"}}},
  {"data": {"name": "gates"}, "transform": [{"filter": "datum.p==='CD166'&&datum.side==='neg'"}], "mark": {"type": "text", "align": "left", "baseline": "middle", "dx": 4, "dy": 22.3}, "encoding": {"x": {"datum": -1400, "type": "quantitative"}, "y": {"datum": 424, "type": "quantitative"}, "text": {"field": "pct"}}},
  {"data": {"name": "gates"}, "transform": [{"filter": "datum.p==='CD166'&&datum.side==='pos'"}], "mark": {"type": "text", "align": "right", "baseline": "middle", "dy": 10.7}, "encoding": {"x": {"datum": 2.5e7, "type": "quantitative"}, "y": {"datum": 424, "type": "quantitative"}, "text": {"field": "gate"}}},
  {"data": {"name": "gates"}, "transform": [{"filter": "datum.p==='CD166'&&datum.side==='pos'"}], "mark": {"type": "text", "align": "right", "baseline": "middle", "dy": 22.3}, "encoding": {"x": {"datum": 2.5e7, "type": "quantitative"}, "y": {"datum": 424, "type": "quantitative"}, "text": {"field": "pct"}}}
 ]},
{"title": "CD140a", "width": 195, "height": 191,
 "encoding": {
  "x": {"field": "x", "type": "quantitative", "scale": {"type": "symlog", "constant": 187, "domain": [-1400, 1.9e8], "nice": false},
   "axis": {"title": "BL5-H :: PE-Cy7-H", "titlePadding": 9, "values": [-1000,-500,-200,-100,0,100,200,500,1000,2000,3000,4000,5000,6000,7000,8000,9000,1e4,2e4,3e4,4e4,5e4,6e4,7e4,8e4,9e4,1e5,2e5,3e5,4e5,5e5,6e5,7e5,8e5,9e5,1e6,2e6,3e6,4e6,5e6,6e6,7e6,8e6,9e6,1e7,2e7,3e7,4e7,5e7,6e7,7e7,8e7,9e7,1e8], "labelExpr": "datum.value===0?'0':datum.value===1e4?'10⁴':datum.value===1e6?'10⁶':datum.value===1e8?'10⁸':''", "tickSize": {"condition": {"test": "datum.value===0||datum.value===1e4||datum.value===1e6||datum.value===1e8", "value": 5}, "value": 2.5}}},
  "y": {"field": "y", "type": "quantitative", "scale": {"domain": [0, 327], "nice": false},
   "axis": {"title": "Count", "values": [0,20,40,60,80,100,120,140,160,180,200,220,240,260,280,300,320], "labelExpr": "datum.value%100===0?datum.label:''", "tickSize": {"condition": {"test": "datum.value%100===0", "value": 6}, "value": 3}}}
 },
 "layer": [
  {"data": {"name": "hist"}, "transform": [{"filter": "datum.p==='CD140a'&&datum.s==='r'"}], "mark": {"type": "area", "color": "#f4a3a3", "interpolate": "monotone", "line": {"color": "#e8414b", "strokeWidth": 1}}},
  {"data": {"name": "hist"}, "transform": [{"filter": "datum.p==='CD140a'&&datum.s==='c'"}], "mark": {"type": "area", "color": "#00afe5", "fillOpacity": 0.39, "interpolate": "monotone", "line": {"color": "#1fc2e3", "strokeWidth": 1}}},
  {"data": {"name": "gates"}, "transform": [{"filter": "datum.p==='CD140a'"}], "mark": {"type": "rule", "color": "#222", "strokeWidth": 1.5}, "encoding": {"x2": {"field": "x2"}}},
  {"data": {"name": "gates"}, "transform": [{"filter": "datum.p==='CD140a'"}], "mark": {"type": "tick", "orient": "vertical", "size": 7, "thickness": 1.5, "color": "#222"}},
  {"data": {"name": "gates"}, "transform": [{"filter": "datum.p==='CD140a'"}], "mark": {"type": "tick", "orient": "vertical", "size": 7, "thickness": 1.5, "color": "#222"}, "encoding": {"x": {"field": "x2", "type": "quantitative"}}},
  {"data": {"name": "gates"}, "transform": [{"filter": "datum.p==='CD140a'&&datum.side==='neg'"}], "mark": {"type": "text", "align": "left", "baseline": "middle", "dx": 4, "dy": 10.7}, "encoding": {"x": {"datum": -1400, "type": "quantitative"}, "y": {"datum": 327, "type": "quantitative"}, "text": {"field": "gate"}}},
  {"data": {"name": "gates"}, "transform": [{"filter": "datum.p==='CD140a'&&datum.side==='neg'"}], "mark": {"type": "text", "align": "left", "baseline": "middle", "dx": 4, "dy": 22.3}, "encoding": {"x": {"datum": -1400, "type": "quantitative"}, "y": {"datum": 327, "type": "quantitative"}, "text": {"field": "pct"}}},
  {"data": {"name": "gates"}, "transform": [{"filter": "datum.p==='CD140a'&&datum.side==='pos'"}], "mark": {"type": "text", "align": "right", "baseline": "middle", "dy": 10.7}, "encoding": {"x": {"datum": 2.5e7, "type": "quantitative"}, "y": {"datum": 327, "type": "quantitative"}, "text": {"field": "gate"}}},
  {"data": {"name": "gates"}, "transform": [{"filter": "datum.p==='CD140a'&&datum.side==='pos'"}], "mark": {"type": "text", "align": "right", "baseline": "middle", "dy": 22.3}, "encoding": {"x": {"datum": 2.5e7, "type": "quantitative"}, "y": {"datum": 327, "type": "quantitative"}, "text": {"field": "pct"}}}
 ]},
{"title": "CD140b", "width": 195, "height": 191,
 "encoding": {
  "x": {"field": "x", "type": "quantitative", "scale": {"type": "symlog", "constant": 187, "domain": [-1400, 1.9e8], "nice": false},
   "axis": {"title": "VL2-H :: AmCyan-H", "titlePadding": 9, "values": [-1000,-500,-200,-100,0,100,200,500,1000,2000,3000,4000,5000,6000,7000,8000,9000,1e4,2e4,3e4,4e4,5e4,6e4,7e4,8e4,9e4,1e5,2e5,3e5,4e5,5e5,6e5,7e5,8e5,9e5,1e6,2e6,3e6,4e6,5e6,6e6,7e6,8e6,9e6,1e7,2e7,3e7,4e7,5e7,6e7,7e7,8e7,9e7,1e8], "labelExpr": "datum.value===0?'0':datum.value===1e4?'10⁴':datum.value===1e6?'10⁶':datum.value===1e8?'10⁸':''", "tickSize": {"condition": {"test": "datum.value===0||datum.value===1e4||datum.value===1e6||datum.value===1e8", "value": 5}, "value": 2.5}}},
  "y": {"field": "y", "type": "quantitative", "scale": {"domain": [0, 196], "nice": false},
   "axis": {"title": "Count", "values": [0,10,20,30,40,50,60,70,80,90,100,110,120,130,140,150,160,170,180,190], "labelExpr": "datum.value%50===0?datum.label:''", "tickSize": {"condition": {"test": "datum.value%50===0", "value": 6}, "value": 3}}}
 },
 "layer": [
  {"data": {"name": "hist"}, "transform": [{"filter": "datum.p==='CD140b'&&datum.s==='r'"}], "mark": {"type": "area", "color": "#f4a3a3", "interpolate": "monotone", "line": {"color": "#e8414b", "strokeWidth": 1}}},
  {"data": {"name": "hist"}, "transform": [{"filter": "datum.p==='CD140b'&&datum.s==='c'"}], "mark": {"type": "area", "color": "#00afe5", "fillOpacity": 0.39, "interpolate": "monotone", "line": {"color": "#1fc2e3", "strokeWidth": 1}}},
  {"data": {"name": "gates"}, "transform": [{"filter": "datum.p==='CD140b'"}], "mark": {"type": "rule", "color": "#222", "strokeWidth": 1.5}, "encoding": {"x2": {"field": "x2"}}},
  {"data": {"name": "gates"}, "transform": [{"filter": "datum.p==='CD140b'"}], "mark": {"type": "tick", "orient": "vertical", "size": 7, "thickness": 1.5, "color": "#222"}},
  {"data": {"name": "gates"}, "transform": [{"filter": "datum.p==='CD140b'"}], "mark": {"type": "tick", "orient": "vertical", "size": 7, "thickness": 1.5, "color": "#222"}, "encoding": {"x": {"field": "x2", "type": "quantitative"}}},
  {"data": {"name": "gates"}, "transform": [{"filter": "datum.p==='CD140b'&&datum.side==='neg'"}], "mark": {"type": "text", "align": "left", "baseline": "middle", "dx": 4, "dy": 10.7}, "encoding": {"x": {"datum": -1400, "type": "quantitative"}, "y": {"datum": 196, "type": "quantitative"}, "text": {"field": "gate"}}},
  {"data": {"name": "gates"}, "transform": [{"filter": "datum.p==='CD140b'&&datum.side==='neg'"}], "mark": {"type": "text", "align": "left", "baseline": "middle", "dx": 4, "dy": 22.3}, "encoding": {"x": {"datum": -1400, "type": "quantitative"}, "y": {"datum": 196, "type": "quantitative"}, "text": {"field": "pct"}}},
  {"data": {"name": "gates"}, "transform": [{"filter": "datum.p==='CD140b'&&datum.side==='pos'"}], "mark": {"type": "text", "align": "right", "baseline": "middle", "dy": 10.7}, "encoding": {"x": {"datum": 2.5e7, "type": "quantitative"}, "y": {"datum": 196, "type": "quantitative"}, "text": {"field": "gate"}}},
  {"data": {"name": "gates"}, "transform": [{"filter": "datum.p==='CD140b'&&datum.side==='pos'"}], "mark": {"type": "text", "align": "right", "baseline": "middle", "dy": 22.3}, "encoding": {"x": {"datum": 2.5e7, "type": "quantitative"}, "y": {"datum": 196, "type": "quantitative"}, "text": {"field": "pct"}}}
 ]}
], "spacing": 3.5},
{"hconcat": [
{"title": "CD271", "width": 195, "height": 194,
 "encoding": {
  "x": {"field": "x", "type": "quantitative", "scale": {"type": "symlog", "constant": 187, "domain": [-1400, 1.9e8], "nice": false},
   "axis": {"title": "VL1-H :: Pacific Blue-H", "labelPadding": 5, "titlePadding": 7, "values": [-1000,-500,-200,-100,0,100,200,500,1000,2000,3000,4000,5000,6000,7000,8000,9000,1e4,2e4,3e4,4e4,5e4,6e4,7e4,8e4,9e4,1e5,2e5,3e5,4e5,5e5,6e5,7e5,8e5,9e5,1e6,2e6,3e6,4e6,5e6,6e6,7e6,8e6,9e6,1e7,2e7,3e7,4e7,5e7,6e7,7e7,8e7,9e7,1e8], "labelExpr": "datum.value===0?'0':datum.value===1e4?'10⁴':datum.value===1e6?'10⁶':datum.value===1e8?'10⁸':''", "tickSize": {"condition": {"test": "datum.value===0||datum.value===1e4||datum.value===1e6||datum.value===1e8", "value": 5}, "value": 2.5}}},
  "y": {"field": "y", "type": "quantitative", "scale": {"domain": [0, 199], "nice": false},
   "axis": {"title": "Count", "values": [0,10,20,30,40,50,60,70,80,90,100,110,120,130,140,150,160,170,180,190], "labelExpr": "datum.value%50===0?datum.label:''", "tickSize": {"condition": {"test": "datum.value%50===0", "value": 6}, "value": 3}}}
 },
 "layer": [
  {"data": {"name": "hist"}, "transform": [{"filter": "datum.p==='CD271'&&datum.s==='r'"}], "mark": {"type": "area", "color": "#f4a3a3", "interpolate": "monotone", "line": {"color": "#e8414b", "strokeWidth": 1}}},
  {"data": {"name": "hist"}, "transform": [{"filter": "datum.p==='CD271'&&datum.s==='c'"}], "mark": {"type": "area", "color": "#00afe5", "fillOpacity": 0.39, "interpolate": "monotone", "line": {"color": "#1fc2e3", "strokeWidth": 1}}},
  {"data": {"name": "gates"}, "transform": [{"filter": "datum.p==='CD271'"}], "mark": {"type": "rule", "color": "#222", "strokeWidth": 1.5}, "encoding": {"x2": {"field": "x2"}}},
  {"data": {"name": "gates"}, "transform": [{"filter": "datum.p==='CD271'"}], "mark": {"type": "tick", "orient": "vertical", "size": 7, "thickness": 1.5, "color": "#222"}},
  {"data": {"name": "gates"}, "transform": [{"filter": "datum.p==='CD271'"}], "mark": {"type": "tick", "orient": "vertical", "size": 7, "thickness": 1.5, "color": "#222"}, "encoding": {"x": {"field": "x2", "type": "quantitative"}}},
  {"data": {"name": "gates"}, "transform": [{"filter": "datum.p==='CD271'&&datum.side==='neg'"}], "mark": {"type": "text", "align": "left", "baseline": "middle", "dx": 4, "dy": 10.7}, "encoding": {"x": {"datum": -1400, "type": "quantitative"}, "y": {"datum": 199, "type": "quantitative"}, "text": {"field": "gate"}}},
  {"data": {"name": "gates"}, "transform": [{"filter": "datum.p==='CD271'&&datum.side==='neg'"}], "mark": {"type": "text", "align": "left", "baseline": "middle", "dx": 4, "dy": 22.3}, "encoding": {"x": {"datum": -1400, "type": "quantitative"}, "y": {"datum": 199, "type": "quantitative"}, "text": {"field": "pct"}}},
  {"data": {"name": "gates"}, "transform": [{"filter": "datum.p==='CD271'&&datum.side==='pos'"}], "mark": {"type": "text", "align": "right", "baseline": "middle", "dy": 10.7}, "encoding": {"x": {"datum": 2.5e7, "type": "quantitative"}, "y": {"datum": 199, "type": "quantitative"}, "text": {"field": "gate"}}},
  {"data": {"name": "gates"}, "transform": [{"filter": "datum.p==='CD271'&&datum.side==='pos'"}], "mark": {"type": "text", "align": "right", "baseline": "middle", "dy": 22.3}, "encoding": {"x": {"datum": 2.5e7, "type": "quantitative"}, "y": {"datum": 199, "type": "quantitative"}, "text": {"field": "pct"}}}
 ]},
{"title": "CD34", "width": 195, "height": 194,
 "encoding": {
  "x": {"field": "x", "type": "quantitative", "scale": {"type": "symlog", "constant": 187, "domain": [-1400, 1.9e8], "nice": false},
   "axis": {"title": "BL1-H :: FITC-H", "labelPadding": 5, "titlePadding": 7, "values": [-1000,-500,-200,-100,0,100,200,500,1000,2000,3000,4000,5000,6000,7000,8000,9000,1e4,2e4,3e4,4e4,5e4,6e4,7e4,8e4,9e4,1e5,2e5,3e5,4e5,5e5,6e5,7e5,8e5,9e5,1e6,2e6,3e6,4e6,5e6,6e6,7e6,8e6,9e6,1e7,2e7,3e7,4e7,5e7,6e7,7e7,8e7,9e7,1e8], "labelExpr": "datum.value===0?'0':datum.value===1e4?'10⁴':datum.value===1e6?'10⁶':datum.value===1e8?'10⁸':''", "tickSize": {"condition": {"test": "datum.value===0||datum.value===1e4||datum.value===1e6||datum.value===1e8", "value": 5}, "value": 2.5}}},
  "y": {"field": "y", "type": "quantitative", "scale": {"domain": [0, 290], "nice": false},
   "axis": {"title": "Count", "values": [0,10,20,30,40,50,60,70,80,90,100,110,120,130,140,150,160,170,180,190,200,210,220,230,240,250,260,270,280], "labelExpr": "datum.value%50===0?datum.label:''", "tickSize": {"condition": {"test": "datum.value%50===0", "value": 6}, "value": 3}}}
 },
 "layer": [
  {"data": {"name": "hist"}, "transform": [{"filter": "datum.p==='CD34'&&datum.s==='r'"}], "mark": {"type": "area", "color": "#f4a3a3", "interpolate": "monotone", "line": {"color": "#e8414b", "strokeWidth": 1}}},
  {"data": {"name": "hist"}, "transform": [{"filter": "datum.p==='CD34'&&datum.s==='c'"}], "mark": {"type": "area", "color": "#00afe5", "fillOpacity": 0.39, "interpolate": "monotone", "line": {"color": "#1fc2e3", "strokeWidth": 1}}},
  {"data": {"name": "gates"}, "transform": [{"filter": "datum.p==='CD34'"}], "mark": {"type": "rule", "color": "#222", "strokeWidth": 1.5}, "encoding": {"x2": {"field": "x2"}}},
  {"data": {"name": "gates"}, "transform": [{"filter": "datum.p==='CD34'"}], "mark": {"type": "tick", "orient": "vertical", "size": 7, "thickness": 1.5, "color": "#222"}},
  {"data": {"name": "gates"}, "transform": [{"filter": "datum.p==='CD34'"}], "mark": {"type": "tick", "orient": "vertical", "size": 7, "thickness": 1.5, "color": "#222"}, "encoding": {"x": {"field": "x2", "type": "quantitative"}}},
  {"data": {"name": "gates"}, "transform": [{"filter": "datum.p==='CD34'&&datum.side==='neg'"}], "mark": {"type": "text", "align": "left", "baseline": "middle", "dx": 4, "dy": 10.7}, "encoding": {"x": {"datum": -1400, "type": "quantitative"}, "y": {"datum": 290, "type": "quantitative"}, "text": {"field": "gate"}}},
  {"data": {"name": "gates"}, "transform": [{"filter": "datum.p==='CD34'&&datum.side==='neg'"}], "mark": {"type": "text", "align": "left", "baseline": "middle", "dx": 4, "dy": 22.3}, "encoding": {"x": {"datum": -1400, "type": "quantitative"}, "y": {"datum": 290, "type": "quantitative"}, "text": {"field": "pct"}}},
  {"data": {"name": "gates"}, "transform": [{"filter": "datum.p==='CD34'&&datum.side==='pos'"}], "mark": {"type": "text", "align": "right", "baseline": "middle", "dy": 10.7}, "encoding": {"x": {"datum": 2.5e7, "type": "quantitative"}, "y": {"datum": 290, "type": "quantitative"}, "text": {"field": "gate"}}},
  {"data": {"name": "gates"}, "transform": [{"filter": "datum.p==='CD34'&&datum.side==='pos'"}], "mark": {"type": "text", "align": "right", "baseline": "middle", "dy": 22.3}, "encoding": {"x": {"datum": 2.5e7, "type": "quantitative"}, "y": {"datum": 290, "type": "quantitative"}, "text": {"field": "pct"}}}
 ]},
{"title": "CD45", "width": 195, "height": 194,
 "encoding": {
  "x": {"field": "x", "type": "quantitative", "scale": {"type": "symlog", "constant": 187, "domain": [-1400, 1.9e8], "nice": false},
   "axis": {"title": "VL2-H :: AmCyan-H", "labelPadding": 5, "titlePadding": 7, "values": [-1000,-500,-200,-100,0,100,200,500,1000,2000,3000,4000,5000,6000,7000,8000,9000,1e4,2e4,3e4,4e4,5e4,6e4,7e4,8e4,9e4,1e5,2e5,3e5,4e5,5e5,6e5,7e5,8e5,9e5,1e6,2e6,3e6,4e6,5e6,6e6,7e6,8e6,9e6,1e7,2e7,3e7,4e7,5e7,6e7,7e7,8e7,9e7,1e8], "labelExpr": "datum.value===0?'0':datum.value===1e4?'10⁴':datum.value===1e6?'10⁶':datum.value===1e8?'10⁸':''", "tickSize": {"condition": {"test": "datum.value===0||datum.value===1e4||datum.value===1e6||datum.value===1e8", "value": 5}, "value": 2.5}}},
  "y": {"field": "y", "type": "quantitative", "scale": {"domain": [0, 290], "nice": false},
   "axis": {"title": "Count", "values": [0,10,20,30,40,50,60,70,80,90,100,110,120,130,140,150,160,170,180,190,200,210,220,230,240,250,260,270,280], "labelExpr": "datum.value%50===0?datum.label:''", "tickSize": {"condition": {"test": "datum.value%50===0", "value": 6}, "value": 3}}}
 },
 "layer": [
  {"data": {"name": "hist"}, "transform": [{"filter": "datum.p==='CD45'&&datum.s==='r'"}], "mark": {"type": "area", "color": "#f4a3a3", "interpolate": "monotone", "line": {"color": "#e8414b", "strokeWidth": 1}}},
  {"data": {"name": "hist"}, "transform": [{"filter": "datum.p==='CD45'&&datum.s==='c'"}], "mark": {"type": "area", "color": "#00afe5", "fillOpacity": 0.39, "interpolate": "monotone", "line": {"color": "#1fc2e3", "strokeWidth": 1}}},
  {"data": {"name": "gates"}, "transform": [{"filter": "datum.p==='CD45'"}], "mark": {"type": "rule", "color": "#222", "strokeWidth": 1.5}, "encoding": {"x2": {"field": "x2"}}},
  {"data": {"name": "gates"}, "transform": [{"filter": "datum.p==='CD45'"}], "mark": {"type": "tick", "orient": "vertical", "size": 7, "thickness": 1.5, "color": "#222"}},
  {"data": {"name": "gates"}, "transform": [{"filter": "datum.p==='CD45'"}], "mark": {"type": "tick", "orient": "vertical", "size": 7, "thickness": 1.5, "color": "#222"}, "encoding": {"x": {"field": "x2", "type": "quantitative"}}},
  {"data": {"name": "gates"}, "transform": [{"filter": "datum.p==='CD45'&&datum.side==='neg'"}], "mark": {"type": "text", "align": "left", "baseline": "middle", "dx": 4, "dy": 10.7}, "encoding": {"x": {"datum": -1400, "type": "quantitative"}, "y": {"datum": 290, "type": "quantitative"}, "text": {"field": "gate"}}},
  {"data": {"name": "gates"}, "transform": [{"filter": "datum.p==='CD45'&&datum.side==='neg'"}], "mark": {"type": "text", "align": "left", "baseline": "middle", "dx": 4, "dy": 22.3}, "encoding": {"x": {"datum": -1400, "type": "quantitative"}, "y": {"datum": 290, "type": "quantitative"}, "text": {"field": "pct"}}},
  {"data": {"name": "gates"}, "transform": [{"filter": "datum.p==='CD45'&&datum.side==='pos'"}], "mark": {"type": "text", "align": "right", "baseline": "middle", "dy": 10.7}, "encoding": {"x": {"datum": 2.5e7, "type": "quantitative"}, "y": {"datum": 290, "type": "quantitative"}, "text": {"field": "gate"}}},
  {"data": {"name": "gates"}, "transform": [{"filter": "datum.p==='CD45'&&datum.side==='pos'"}], "mark": {"type": "text", "align": "right", "baseline": "middle", "dy": 22.3}, "encoding": {"x": {"datum": 2.5e7, "type": "quantitative"}, "y": {"datum": 290, "type": "quantitative"}, "text": {"field": "pct"}}}
 ]}
], "spacing": 3.5}
]}
],
"config": {
 "view": {"stroke": "#8a8a8a", "strokeWidth": 1},
 "title": {"font": "Lato", "fontSize": 23, "fontWeight": "normal", "color": "#000", "offset": -3, "anchor": "middle"},
 "axis": {"labelFont": "Liberation Sans", "labelFontSize": 7, "labelColor": "#333", "titleFont": "Liberation Sans", "titleFontSize": 8, "titleFontWeight": "normal", "titleColor": "#333", "domainColor": "#333", "domainWidth": 1, "tickColor": "#333", "tickWidth": 1, "grid": false, "labelOverlap": false, "labelFlush": false, "zindex": 1},
 "axisX": {"labelPadding": 8, "titlePadding": 11},
 "axisY": {"labelPadding": 7.5, "titlePadding": 12},
 "text": {"font": "Liberation Sans", "fontSize": 7.8, "color": "#333"}
}
}
